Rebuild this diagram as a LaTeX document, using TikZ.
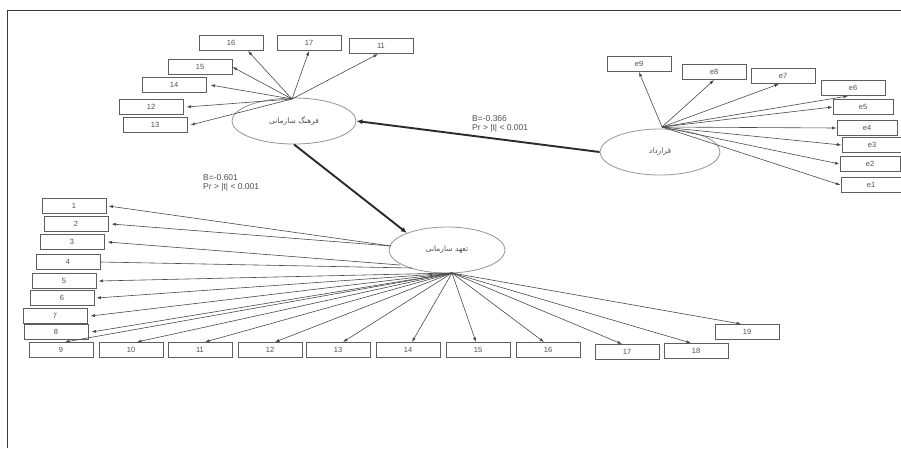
\documentclass[tikz,border=0pt]{standalone}
\usepackage{fontspec}
\setmainfont{Liberation Sans}
\newfontfamily\arabicfont[Script=Arabic]{DejaVu Sans}
\TeXXeTstate=1
\usetikzlibrary{shapes.geometric,arrows.meta}
\definecolor{boxc}{HTML}{5E5E5E}
\definecolor{latc}{HTML}{959595}
\definecolor{arrc}{HTML}{4A4A4A}
\definecolor{mainc}{HTML}{2A2A2A}
\definecolor{txtc}{HTML}{505050}
\definecolor{framec}{HTML}{3A3A3A}
\begin{document}
\begin{tikzpicture}[x=1pt,y=-1pt,
  box/.style={draw=boxc, line width=1pt, minimum width=64pt, minimum height=15pt, inner sep=0pt, font=\fontsize{7.5}{8}\selectfont, text=txtc},
  lat/.style={draw=latc, ellipse, line width=0.8pt, inner sep=0pt, text=txtc, font=\arabicfont\fontsize{7.5}{8}\selectfont},
  arr/.style={draw=arrc, line width=0.6pt, -{Latex[length=4.5pt,width=3.2pt]}},
  plain/.style={draw=arrc, line width=0.6pt},
  mainarr/.style={draw=mainc, line width=1.9pt, -{Latex[length=6pt,width=5pt]}},
  lbl/.style={font=\fontsize{8.5}{9.5}\selectfont, text=txtc, align=left, inner sep=0pt, anchor=north west}]
\useasboundingbox (0,0) rectangle (901,448);
\fill[white] (0,0) rectangle (901,448);
% frame
\draw[framec, line width=1pt] (7,448) -- (7,10) -- (901,10);

% latent variables
\node[lat, minimum width=124pt, minimum height=46pt] (eT) at (294,121) {\beginR فرهنگ سازمانی\endR};
\node[lat, minimum width=120pt, minimum height=46pt] (eR) at (660,152) {\beginR قرارداد\endR};
\node[lat, minimum width=116pt, minimum height=46pt] (eB) at (447,250) {\beginR تعهد سازمانی\endR};

% fan origins
\coordinate (fT) at (292,99);
\coordinate (fR) at (662,127);
\coordinate (fB) at (452,273);
\coordinate (fL) at (391,246);
\coordinate (fL3) at (400,265);
\coordinate (fL4) at (412,268);

% top-left indicators
\node[box] (t16) at (231,43) {16};
\node[box] (t17) at (309,43) {17};
\node[box] (t11) at (381,46) {11};
\node[box] (t15) at (200,67) {15};
\node[box] (t14) at (174,85) {14};
\node[box] (t12) at (151,107) {12};
\node[box] (t13) at (155,125) {13};

% right indicators
\node[box] (e9) at (639,64) {e9};
\node[box] (e8) at (714,72) {e8};
\node[box] (e7) at (783,76) {e7};
\node[box] (e6) at (853,88) {e6};
\node[box, minimum width=60pt] (e5) at (863,107) {e5};
\node[box, minimum width=60pt] (e4) at (867,128) {e4};
\node[box, minimum width=60pt] (e3) at (872,145) {e3};
\node[box, minimum width=60pt] (e2) at (870,164) {e2};
\node[box, minimum width=60pt] (e1) at (871,185) {e1};

% bottom indicators
\node[box] (b1) at (74,206) {1};
\node[box] (b2) at (76,224) {2};
\node[box] (b3) at (72,242) {3};
\node[box] (b4) at (68,262) {4};
\node[box] (b5) at (64,281) {5};
\node[box] (b6) at (62,298) {6};
\node[box] (b7) at (55,316) {7};
\node[box] (b8) at (56,332) {8};
\node[box] (b9) at (61,350) {9};
\node[box] (b10) at (131,350) {10};
\node[box] (b11) at (200,350) {11};
\node[box] (b12) at (270,350) {12};
\node[box] (b13) at (338,350) {13};
\node[box] (b14) at (408,350) {14};
\node[box] (b15) at (478,350) {15};
\node[box] (b16) at (548,350) {16};
\node[box] (b17) at (627,352) {17};
\node[box] (b18) at (696,351) {18};
\node[box] (b19) at (747,332) {19};

% top-left arrows
\draw[arr] (fT) -- ([xshift=17pt]t16.south);
\draw[arr] (fT) -- (t17.south);
\draw[arr] (fT) -- ([xshift=-3pt]t11.south);
\draw[arr] (fT) -- (t15.east);
\draw[arr] (fT) -- ([xshift=4pt]t14.east);
\draw[arr] (fT) -- ([xshift=3pt]t12.east);
\draw[arr] (fT) -- ([xshift=3pt]t13.east);

% right arrows
\draw[arr] (fR) -- (e9.south);
\draw[arr] (fR) -- (e8.south);
\draw[arr] (fR) -- ([xshift=-4pt]e7.south);
\draw[arr] (fR) -- ([xshift=-5pt]e6.south);
\draw[arr] (fR) -- (e5.west);
\draw[arr] (fR) -- (e4.west);
\draw[arr] (fR) -- (e3.west);
\draw[arr] (fR) -- (e2.west);
\draw[arr] (fR) -- (e1.west);

% bottom arrows
\draw[arr] (fL) -- ([xshift=2pt]b1.east);
\draw[arr] (fL) -- ([xshift=3pt]b2.east);
\draw[arr] (fL3) -- ([xshift=3pt]b3.east);
\draw[plain] (fL4) -- (b4.east);
\draw[arr] (fB) -- ([xshift=2pt]b5.east);
\draw[arr] (fB) -- ([xshift=2pt]b6.east);
\draw[arr] (fB) -- ([xshift=3pt]b7.east);
\draw[arr] (fB) -- ([xshift=3pt]b8.east);
\draw[arr] (fB) -- ([xshift=4pt]b9.north);
\draw[arr] (fB) -- ([xshift=6pt]b10.north);
\draw[arr] (fB) -- ([xshift=5pt]b11.north);
\draw[arr] (fB) -- ([xshift=5pt]b12.north);
\draw[arr] (fB) -- ([xshift=5pt]b13.north);
\draw[arr] (fB) -- ([xshift=4pt]b14.north);
\draw[arr] (fB) -- ([xshift=-2pt]b15.north);
\draw[arr] (fB) -- ([xshift=-4pt]b16.north);
\draw[arr] (fB) -- ([xshift=-5pt]b17.north);
\draw[arr] (fB) -- ([xshift=-5pt]b18.north);
\draw[arr] (fB) -- ([xshift=-6pt]b19.north);

% structural paths
\draw[mainarr] (eR.west) -- (eT.east);
\draw[mainarr] (eT.south) -- (eB.157);

% path labels
\node[lbl] (lab1) at (203,174) {B=-0.601\\Pr > |t| < 0.001};
\node[lbl] (lab2) at (472,115) {B=-0.366\\Pr > |t| < 0.001};
\end{tikzpicture}
\end{document}
